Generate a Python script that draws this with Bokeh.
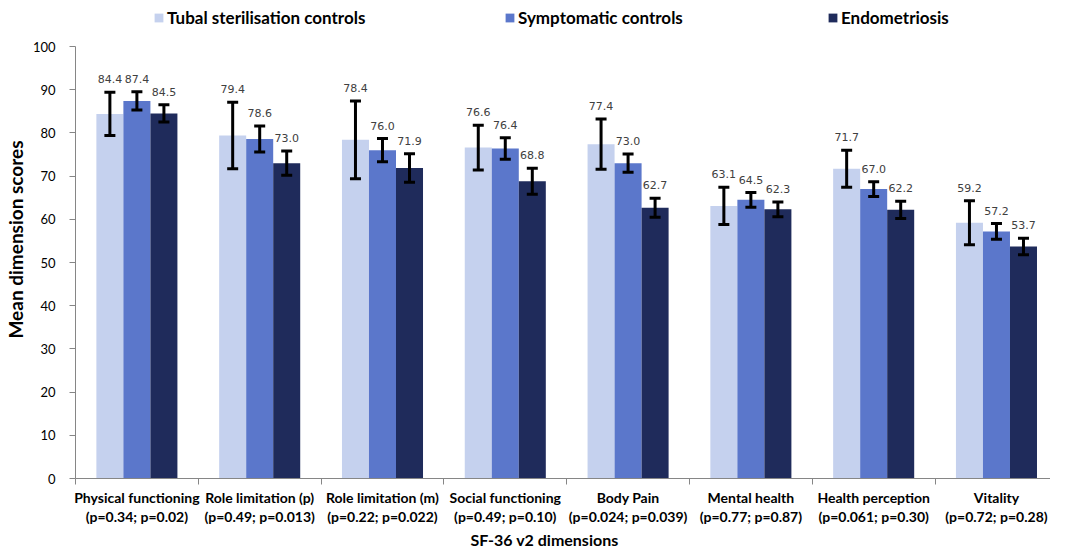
from bokeh.plotting import figure
from bokeh.models import (Range1d, FixedTicker, ColumnDataSource, Whisker, TeeHead,
                          Legend, LegendItem, Title)
from bokeh.embed import file_html
from bokeh.resources import INLINE

# ---- data ----
categories = ["Physical functioning", "Role limitation (p)", "Role limitation (m)",
              "Social functioning", "Body Pain", "Mental health",
              "Health perception", "Vitality"]
p_texts = ["(p=0.34; p=0.02)", "(p=0.49; p=0.013)", "(p=0.22; p=0.022)",
           "(p=0.49; p=0.10)", "(p=0.024; p=0.039)", "(p=0.77; p=0.87)",
           "(p=0.061; p=0.30)", "(p=0.72; p=0.28)"]
series_names = ["Tubal sterilisation controls", "Symptomatic controls", "Endometriosis"]
tubal = [84.4, 79.4, 78.4, 76.6, 77.4, 63.1, 71.7, 59.2]
symptomatic = [87.4, 78.6, 76.0, 76.4, 73.0, 64.5, 67.0, 57.2]
endometriosis = [84.5, 73.0, 71.9, 68.8, 62.7, 62.3, 62.2, 53.7]
tubal_err = [5.0, 7.7, 9.0, 5.2, 5.8, 4.3, 4.3, 5.1]
symptomatic_err = [2.1, 3.0, 2.7, 2.5, 2.1, 1.7, 1.7, 1.8]
endometriosis_err = [2.0, 2.8, 3.3, 3.0, 2.2, 1.7, 2.0, 1.9]
y_ticks = [0, 10, 20, 30, 40, 50, 60, 70, 80, 90, 100]

colors = ["#c5d1ee", "#5b77cb", "#1f2b5b"]
offsets = [-0.22, 0.0, 0.22]
bar_w = 0.22

# frame spans the legend area too; the y axis itself is bounded to 0..100
p = figure(width=1050, height=553, x_range=Range1d(0, 7.94), y_range=Range1d(0, 110.65),
           output_backend="svg", toolbar_location=None,
           min_border_left=66, min_border_right=0, min_border_top=0, min_border_bottom=75)
p.outline_line_color = None
p.xgrid.visible = False
p.ygrid.visible = False

axis_color = "#868686"

# y axis
ya = p.yaxis[0]
ya.bounds = (0, 100)
ya.ticker = FixedTicker(ticks=y_ticks)
ya.axis_line_color = axis_color
ya.major_tick_line_color = axis_color
ya.major_tick_out = 6
ya.major_tick_in = 0
ya.minor_tick_line_color = None
ya.major_label_standoff = 14
ya.major_label_text_font = "Lato"
ya.major_label_text_font_size = "13px"
ya.major_label_text_color = "#000000"
ya.axis_label = "Mean dimension scores"
ya.axis_label_text_font = "Lato"
ya.axis_label_text_font_style = "bold"
ya.axis_label_text_font_size = "19px"
ya.axis_label_text_color = "#000000"
ya.axis_label_standoff = 3

# x axis: labels at category centres, small ticks at category boundaries
centers = [i + 0.5 for i in range(len(categories))]
bounds = [i for i in range(len(categories) + 1)]
xa = p.xaxis[0]
xa.ticker = FixedTicker(ticks=centers, minor_ticks=bounds)
xa.major_label_overrides = {c: f"{n}\n{t}" for c, n, t in zip(centers, categories, p_texts)}
xa.axis_line_color = axis_color
xa.major_tick_line_color = None
xa.major_tick_out = 0
xa.major_tick_in = 0
xa.minor_tick_line_color = axis_color
xa.minor_tick_out = 6
xa.minor_tick_in = 0
xa.major_label_standoff = 4
xa.major_label_text_font = "Lato"
xa.major_label_text_font_style = "bold"
xa.major_label_text_font_size = "14px"
xa.major_label_text_color = "#000000"
xa.major_label_text_line_height = 1.13

renderers = []
for k, (vals, errs) in enumerate([(tubal, tubal_err), (symptomatic, symptomatic_err),
                                  (endometriosis, endometriosis_err)]):
    xs = [c + offsets[k] for c in centers]
    src = ColumnDataSource(dict(
        x=xs, top=vals,
        upper=[v + e for v, e in zip(vals, errs)],
        lower=[v - e for v, e in zip(vals, errs)],
        label=[f"{v:.1f}" for v in vals],
    ))
    r = p.vbar(x="x", top="top", width=bar_w, source=src, fill_color=colors[k],
               line_color=None)
    renderers.append(r)
    w = Whisker(base="x", upper="upper", lower="lower", source=src, level="overlay",
                line_color="black", line_width=3,
                upper_head=TeeHead(size=11, line_width=3, line_color="black"),
                lower_head=TeeHead(size=11, line_width=3, line_color="black"))
    p.add_layout(w)
    p.text(x="x", y="upper", text="label", source=src, y_offset=-13,
           text_align="center", text_baseline="middle",
           text_font_size="11px", text_color="#404040",
           text_font={"value": "DejaVu Sans"})

# legend (three single-item legends at the top of the frame)
legend_x = [78, 429, 752]
for k, name in enumerate(series_names):
    leg = Legend(items=[LegendItem(label=name, renderers=[renderers[k]])],
                 location=(legend_x[k], 450), orientation="horizontal",
                 padding=0, margin=0, border_line_color=None,
                 background_fill_alpha=0, glyph_width=11, glyph_height=11,
                 label_standoff=3, label_text_font="Lato",
                 label_text_font_style="bold", label_text_font_size="17px",
                 label_text_color="#000000", label_height=20)
    p.add_layout(leg, "center")

title = Title(text="SF-36 v2 dimensions", align="left", offset=395, standoff=0,
              text_font="Lato", text_font_style="bold", text_font_size="16px",
              text_color="#000000")
p.add_layout(title, "below")

open("out.html", "w").write(file_html(p, INLINE))
